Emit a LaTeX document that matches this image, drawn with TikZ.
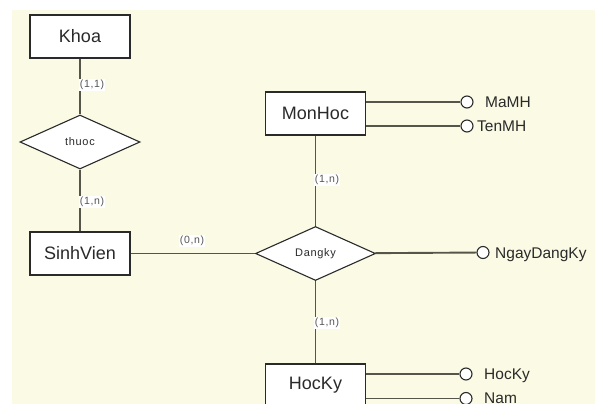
\documentclass[tikz,border=0pt]{standalone}
\usepackage{fontspec}
\setmainfont{Liberation Sans}
\usetikzlibrary{shapes.geometric}
\definecolor{paper}{HTML}{FBFAE4}
\definecolor{edge}{HTML}{55554A}
\definecolor{ink}{HTML}{2A2A2A}
\definecolor{cardgray}{HTML}{555555}

\begin{document}
\begin{tikzpicture}[x=1pt,y=-1pt,
  entity/.style={draw=ink, line width=1.3pt, fill=white, minimum width=100pt,
    minimum height=43pt, inner sep=0, font=\fontsize{18}{20}\selectfont, text=ink},
  relation/.style={diamond, draw=ink, line width=1.1pt, fill=white,
    minimum width=120pt, minimum height=54pt, inner sep=0,
    font=\fontsize{11}{13}\selectfont\addfontfeature{LetterSpace=6}, text=ink},
  attrdot/.style={circle, draw=ink, line width=1.1pt, fill=white,
    minimum size=12pt, inner sep=0},
  attrname/.style={anchor=base west, inner sep=0,
    font=\fontsize{15.5}{17}\selectfont, text=ink},
  link/.style={draw=edge, line width=1.9pt},
  card/.style={fill=white, inner sep=1pt,
    font=\fontsize{10.5}{12}\selectfont\addfontfeature{LetterSpace=6}, text=cardgray},
]
\useasboundingbox (0,0) rectangle (595,404);
\fill[paper] (12,10) rectangle (595,404);

% entities and relationships
\node[entity] (khoa) at (80,36.5) {Khoa};
\node[relation] (thuoc) at (80,142) {thuoc};
\node[entity] (sv) at (80,253.5) {SinhVien};
\node[entity] (mh) at (315.5,113.5) {MonHoc};
\node[relation] (dk) at (315.5,253.5) {Dangky};
\node[entity] (hk) at (315.5,385.5) {HocKy};

% attribute markers
\node[attrdot] (c1) at (467,102) {};
\node[attrdot] (c2) at (467,126) {};
\node[attrdot] (c3) at (483,252.5) {};
\node[attrdot] (c4) at (466,374) {};
\node[attrdot] (c5) at (466,398.5) {};

% connectors
\draw[link] (khoa) -- (thuoc);
\draw[link] (thuoc) -- (sv);
\draw[link] (sv) -- (dk);
\draw[link] (mh) -- (dk);
\draw[link] (dk) -- (hk);
\draw[link] (dk) -- (c3);
\draw[link] (mh.east |- c1) -- (c1);
\draw[link] (mh.east |- c2) -- (c2);
\draw[link] (hk.east |- c4) -- (c4);
\draw[link] (hk.east |- c5) -- (c5);

% cardinalities
\node[card] (k1) at (92,85) {(1,1)};
\node[card] (k2) at (92,202) {(1,n)};
\node[card] (k3) at (327,180) {(1,n)};
\node[card] (k4) at (192,241) {(0,n)};
\node[card] (k5) at (327,323) {(1,n)};

% attribute names
\node[attrname] (n1) at (485,107.5) {MaMH};
\node[attrname] (n2) at (477,131.5) {TenMH};
\node[attrname] (n3) at (495,258) {NgayDangKy};
\node[attrname] (n4) at (484,379.5) {HocKy};
\node[attrname] (n5) at (484,403) {Nam};
\end{tikzpicture}
\end{document}
